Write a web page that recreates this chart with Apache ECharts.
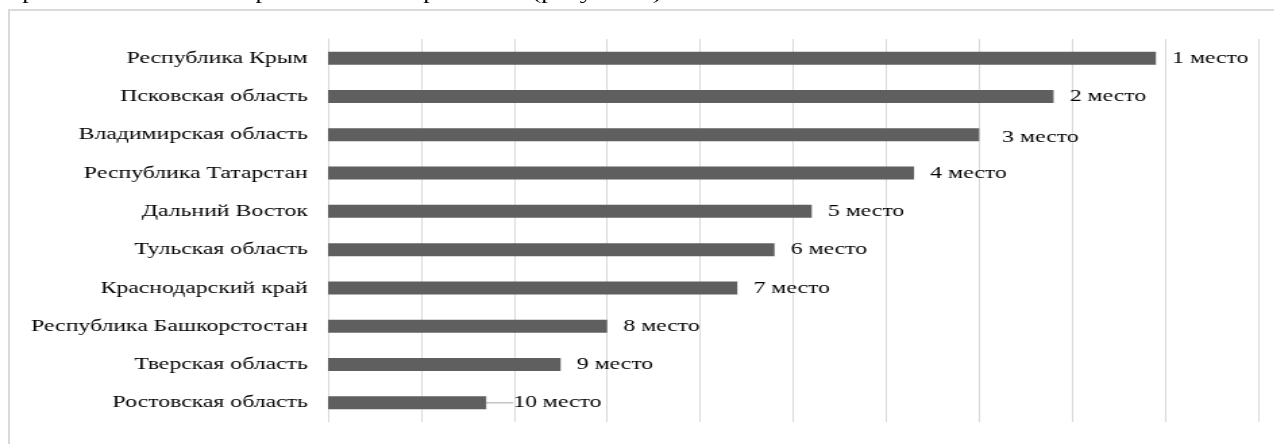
<!DOCTYPE html>
<html>
<head>
<meta charset="utf-8">
<script src="https://cdn.jsdelivr.net/npm/echarts@6/dist/echarts.min.js"></script>
<style>
  html, body { margin: 0; padding: 0; background: #fff; overflow: hidden; }
  /* исходный рисунок растянут по горизонтали, повторяем это масштабом */
  .wrap {
    position: absolute; left: 0; top: 0; width: 944px; height: 444px;
    transform: scaleX(1.35); transform-origin: 0 0;
  }
  .caption {
    position: absolute; left: 6px; top: -17px; white-space: nowrap; line-height: 20px;
    font-family: "Liberation Serif", "DejaVu Serif", serif; font-size: 19.5px; color: #000;
  }
  .frame {
    position: absolute; left: 8px; top: 9px; width: 1300px; height: 500px;
    border-left: 2px solid #d9d9d9; border-top: 2px solid #d9d9d9;
  }
  #chart { position: absolute; left: 0; top: 0; width: 944px; height: 444px; }
</style>
</head>
<body>
<div class="frame"></div>
<div class="wrap">
  <div class="caption">привлекательных гастрономических регионов (рисунок 1).</div>
  <div id="chart"></div>
</div>
<script>
  // регионы и баллы, сверху вниз
  var regions = ['Республика Крым', 'Псковская область', 'Владимирская область', 'Республика Татарстан',
    'Дальний Восток', 'Тульская область', 'Краснодарский край', 'Республика Башкорстостан',
    'Тверская область', 'Ростовская область'];
  var scores = [89, 78, 70, 63, 52, 48, 44, 30, 25, 17];
  var places = ['1 место', '2 место', '3 место', '4 место', '5 место', '6 место', '7 место', '8 место', '9 место', '10 место'];

  var font = '"Liberation Serif", "DejaVu Serif", serif';
  var myChart = echarts.init(document.getElementById('chart'));

  var data = scores.map(function (v, i) {
    var item = { value: v };
    if (i === places.length - 1) {
      item.labelLine = { show: true, lineStyle: { color: '#a6a6a6', width: 1 } };
    }
    return item;
  });

  var option = {
    animation: false,
    grid: { left: 243, right: 12, top: 39, bottom: 22, containLabel: false },
    xAxis: {
      type: 'value',
      min: 0,
      max: 100,
      interval: 10,
      axisLabel: { show: false },
      axisLine: { show: false },
      axisTick: { show: false },
      splitLine: { lineStyle: { color: '#d9d9d9', width: 1 } }
    },
    yAxis: {
      type: 'category',
      inverse: true,
      data: regions,
      axisLine: { show: true, lineStyle: { color: '#d9d9d9' } },
      axisTick: { show: false },
      axisLabel: { color: '#000', fontSize: 17.6, fontFamily: font, margin: 15 }
    },
    series: [{
      type: 'bar',
      barWidth: 13,
      itemStyle: { color: '#5f5f5f' },
      label: {
        show: true,
        position: 'right',
        distance: 12,
        color: '#000',
        fontSize: 17.6,
        fontFamily: font,
        formatter: function (p) { return places[p.dataIndex]; }
      },
      labelLayout: function (p) {
        if (p.dataIndex === places.length - 1) return { dx: 8 };
        if (p.dataIndex === 2) return { dx: 5, dy: 3 };
        return {};
      },
      data: data
    }]
  };

  myChart.setOption(option);
</script>
</body>
</html>
